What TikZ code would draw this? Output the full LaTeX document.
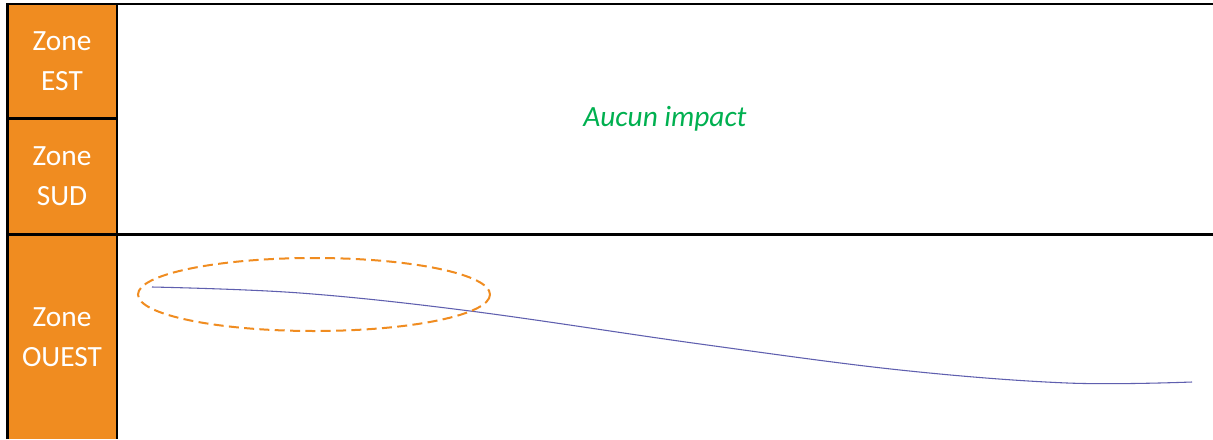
\documentclass[tikz,border=0pt]{standalone}
\usepackage{fontspec}
\setmainfont{Carlito}
\definecolor{zoneorange}{RGB}{240,140,32}
\definecolor{impactgreen}{RGB}{0,176,80}
\definecolor{curveblue}{RGB}{95,95,175}
\begin{document}
\begin{tikzpicture}[x=0.75pt,y=-0.75pt,
  zonelabel/.style={text=white,align=center,font=\fontsize{22}{30}\selectfont,inner sep=0pt},
  rule/.style={black,line width=1.6pt},
  ring/.style={draw=zoneorange,line width=1.5pt,dash pattern=on 7.5pt off 4pt}]
\useasboundingbox (0,0) rectangle (1213,439);
\fill[white] (0,0) rectangle (1213,439);
\fill[zoneorange] (7.5,4.3) rectangle (116.7,439);
% borders
\draw[rule] (7.5,439) -- (7.5,4.3) -- (1213,4.3);
\draw[rule] (116.7,4.3) -- (116.7,439);
\draw[rule] (7.5,118.5) -- (116.7,118.5);
\draw[rule] (7.5,234.5) -- (1213,234.5);
% labels
\node[zonelabel] (est) at (62,61) {Zone\\EST};
\node[zonelabel] (sud) at (62,176) {Zone\\SUD};
\node[zonelabel] (ouest) at (62,337) {Zone\\OUEST};
\node[text=impactgreen,font=\fontsize{22}{26}\selectfont\itshape,inner sep=0pt] (aucun) at (665,119) {Aucun impact};
% curve
\draw[curveblue,line width=0.8pt] plot[smooth,tension=0.6] coordinates {(152,287) (300,293) (470,311) (700,344) (900,370) (1067,383) (1192,382)};
% ellipse
\draw[ring] (314,294.5) ellipse [x radius=176, y radius=36.5];
\end{tikzpicture}
\end{document}
